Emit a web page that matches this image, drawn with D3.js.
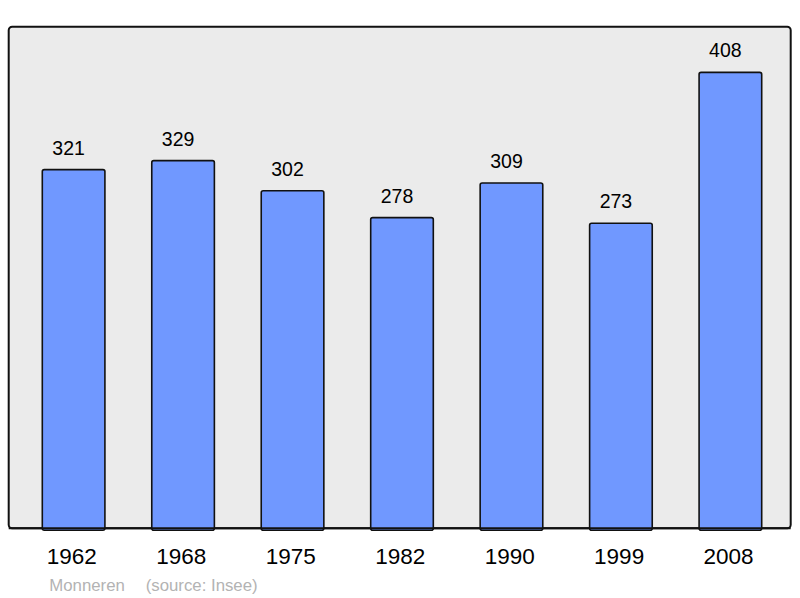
<!DOCTYPE html>
<html><head><meta charset="utf-8">
<script src="https://cdn.jsdelivr.net/npm/d3@7"></script>
<style>body{margin:0;background:#fff}svg{display:block}</style>
</head><body>
<script>
const years = ["1962","1968","1975","1982","1990","1999","2008"];
const population = [321,329,302,278,309,273,408];
const commune = "Monneren";
const source = "(source: Insee)";

const W = 800, H = 598;
const svg = d3.select("body").append("svg").attr("width", W).attr("height", H);
const frame = {x0: 8.7, x1: 790.7, y0: 26.8, y1: 528.2};

svg.append("rect").attr("x", frame.x0).attr("y", frame.y0)
  .attr("width", frame.x1 - frame.x0).attr("height", frame.y1 - frame.y0)
  .attr("rx", 3.5).attr("fill", "#ebebeb").attr("stroke", "#111").attr("stroke-width", 2);

const x = d3.scaleBand().domain(years).range([42.3, 761.7]).paddingInner(0.428).paddingOuter(0);
const y = d3.scaleLinear().domain([0, d3.max(population) * 1.1]).range([frame.y1, frame.y0]);

const g = svg.append("g");
g.selectAll("rect.bar").data(years).join("rect").attr("class","bar")
  .attr("x", d => x(d)).attr("width", x.bandwidth())
  .attr("y", (d,i) => y(population[i])).attr("height", (d,i) => frame.y1 - y(population[i]) + 2)
  .attr("rx", 2)
  .attr("fill", "#7098ff").attr("stroke", "#111").attr("stroke-width", 1.6);

svg.append("line").attr("x1", frame.x0).attr("x2", frame.x1).attr("y1", frame.y1).attr("y2", frame.y1)
  .attr("stroke", "#111").attr("stroke-width", 2);

g.selectAll("text.val").data(years).join("text").attr("class","val")
  .attr("x", d => x(d) + x.bandwidth()/2 - 5).attr("y", (d,i) => y(population[i]) - 15)
  .attr("text-anchor","middle").attr("font-family","Liberation Sans, Arial, sans-serif")
  .attr("font-size", 19.5).attr("fill","#000").text((d,i) => population[i]);

const xAxis = d3.axisBottom(x).tickSize(0).tickPadding(0);
const ax = svg.append("g").attr("transform", `translate(-1.8,${frame.y1})`).call(xAxis);
ax.select(".domain").remove();
ax.selectAll("text").attr("font-family","Liberation Sans, Arial, sans-serif")
  .attr("font-size", 22.5).attr("fill","#000").attr("dy", null).attr("y", 36);

svg.append("text").attr("x", 49.3).attr("y", 590.5)
  .attr("font-family","Liberation Sans, Arial, sans-serif").attr("font-size", 16.8)
  .attr("fill","#b3b3b3").text(commune);
svg.append("text").attr("x", 145.7).attr("y", 590.5)
  .attr("font-family","Liberation Sans, Arial, sans-serif").attr("font-size", 16.8)
  .attr("fill","#b3b3b3").text(source);
</script>
</body></html>
